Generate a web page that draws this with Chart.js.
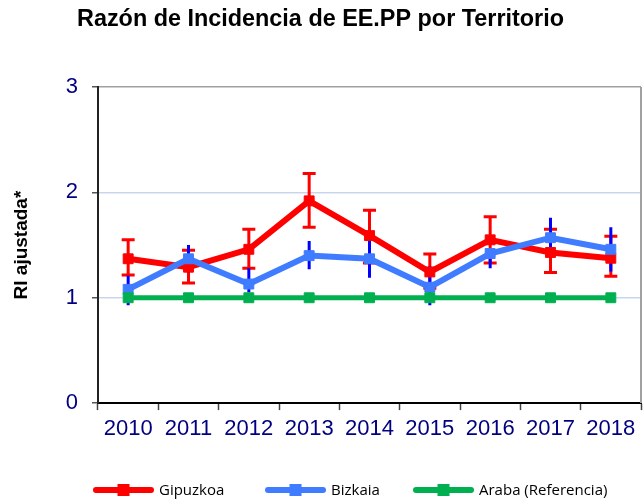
<!DOCTYPE html>
<html><head><meta charset="utf-8">
<script src="https://cdn.jsdelivr.net/npm/chart.js@4.4.1/dist/chart.umd.min.js"></script>
<style>html,body{margin:0;padding:0;background:#fff;}#wrap{width:643px;height:499px;}</style>
</head><body><div id="wrap"><canvas id="c" width="643" height="499"></canvas></div>
<script>
// ---- data ----
const years = ['2010','2011','2012','2013','2014','2015','2016','2017','2018'];
const seriesNames = ['Gipuzkoa', 'Bizkaia', 'Araba (Referencia)'];
const gipuzkoa     = [1.37, 1.29, 1.46, 1.92, 1.59, 1.245, 1.55, 1.43, 1.375];
const gipuzkoaLow  = [1.215, 1.14, 1.28, 1.67, 1.33, 1.09, 1.33, 1.24, 1.205];
const gipuzkoaHigh = [1.55, 1.45, 1.65, 2.18, 1.83, 1.415, 1.77, 1.65, 1.585];
const bizkaia      = [1.08, 1.37, 1.13, 1.40, 1.37, 1.10, 1.42, 1.57, 1.46];
const bizkaiaLow   = [0.93, 1.24, 1.05, 1.27, 1.19, 0.93, 1.28, 1.39, 1.25];
const bizkaiaHigh  = [1.21, 1.50, 1.28, 1.54, 1.55, 1.30, 1.47, 1.76, 1.67];
const araba        = [1, 1, 1, 1, 1, 1, 1, 1, 1];
const yTicks = [0, 1, 2, 3];
const titleText = 'Razón de Incidencia de EE.PP por Territorio';
const yTitle = 'RI ajustada*';

// ---- styles ----
const RED = '#ff0000', BLUE = '#3f7cff', BLUE_ERR = '#0000ff', GREEN = '#00b050';
const TICK_COLOR = '#000080';

const errorBars = {
  id: 'errorBars',
  beforeDatasetsDraw(chart) {
    const ctx = chart.ctx, xs = chart.scales.x, ys = chart.scales.y;
    function draw(lows, highs, color, width, cap) {
      ctx.save();
      ctx.strokeStyle = color; ctx.lineWidth = width; ctx.lineCap = 'butt';
      ctx.beginPath();
      years.forEach((_, i) => {
        const px = xs.getPixelForValue(i);
        const t = ys.getPixelForValue(highs[i]);
        const b = ys.getPixelForValue(lows[i]);
        ctx.moveTo(px, t); ctx.lineTo(px, b);
        if (cap) {
          ctx.moveTo(px - cap / 2, t); ctx.lineTo(px + cap / 2, t);
          ctx.moveTo(px - cap / 2, b); ctx.lineTo(px + cap / 2, b);
        }
      });
      ctx.stroke();
      ctx.restore();
    }
    draw(gipuzkoaLow, gipuzkoaHigh, RED, 3, 13);
    draw(bizkaiaLow, bizkaiaHigh, BLUE_ERR, 3, 0);
  }
};

const frame = {
  id: 'frame',
  beforeDatasetsDraw(chart) {
    const {ctx, chartArea: a} = chart;
    ctx.save();
    ctx.strokeStyle = '#a0a0a0'; ctx.lineWidth = 2;
    ctx.beginPath();
    ctx.moveTo(a.right, a.top); ctx.lineTo(a.right, a.bottom);
    ctx.stroke();
    ctx.restore();
  }
};

const legendBox = {starts: [93, 265, 413], lineLen: 61, y: 490, gap: 5, square: 12};
const customLegend = {
  id: 'customLegend',
  afterDraw(chart) {
    const ctx = chart.ctx;
    chart.data.datasets.forEach((ds, i) => {
      const x0 = legendBox.starts[i], y = legendBox.y;
      ctx.save();
      ctx.strokeStyle = ds.borderColor; ctx.lineWidth = 6; ctx.lineCap = 'round';
      ctx.beginPath(); ctx.moveTo(x0 + 3, y); ctx.lineTo(x0 + legendBox.lineLen - 3, y); ctx.stroke();
      ctx.fillStyle = ds.borderColor;
      const s = legendBox.square, cx = x0 + legendBox.lineLen / 2;
      ctx.fillRect(cx - s / 2, y - s / 2, s, s);
      ctx.fillStyle = '#000';
      ctx.font = '15px "Open Sans"';
      ctx.textBaseline = 'middle'; ctx.textAlign = 'left';
      ctx.fillText(ds.label, x0 + legendBox.lineLen + legendBox.gap, y + 1);
      ctx.restore();
    });
  }
};

function lineDs(label, data, color, width, order) {
  return {
    label, data, borderColor: color, backgroundColor: color,
    borderWidth: width, pointStyle: 'rect', pointRadius: 7, pointBorderWidth: 1,
    pointBackgroundColor: color, pointBorderColor: color, tension: 0, order
  };
}

new Chart(document.getElementById('c'), {
  type: 'line',
  data: {
    labels: years,
    datasets: [
      lineDs(seriesNames[0], gipuzkoa, RED, 6, 2),
      lineDs(seriesNames[1], bizkaia, BLUE, 6, 1),
      lineDs(seriesNames[2], araba, GREEN, 5, 0)
    ]
  },
  options: {
    responsive: false, animation: false, devicePixelRatio: 1,
    layout: {autoPadding: false, padding: {left: 0, right: 2, top: 0, bottom: 50.5}},
    plugins: {
      legend: {display: false},
      tooltip: {enabled: false},
      title: {
        display: true, text: titleText, color: '#000',
        font: {family: '"Liberation Sans", Arial', size: 23.4, weight: 'bold'},
        padding: {top: 6, bottom: 53}
      }
    },
    scales: {
      x: {
        type: 'category', offset: true,
        grid: {offset: true, drawOnChartArea: false, tickLength: 7, tickColor: '#444', tickWidth: 1.5},
        border: {color: '#000', width: 2},
        ticks: {color: TICK_COLOR, font: {family: '"Liberation Sans", Arial', size: 22}, padding: 6, maxRotation: 0, autoSkip: false}
      },
      y: {
        min: 0, max: 3,
        afterBuildTicks: s => { s.ticks = yTicks.map(v => ({value: v})); },
        afterFit: s => { s.width = 98; },
        grid: {
          color: c => c.tick && c.tick.value === 3 ? '#a0a0a0' : (c.tick && c.tick.value === 0 ? 'rgba(0,0,0,0)' : '#c9d5ee'),
          lineWidth: 1.5, tickLength: 6, tickColor: '#555', tickWidth: 1.5
        },
        border: {color: '#222', width: 2},
        ticks: {color: TICK_COLOR, font: {family: '"Liberation Sans", Arial', size: 22}, padding: 14},
        title: {display: true, text: yTitle, color: '#000', font: {family: '"Liberation Sans", Arial', size: 19, weight: 'bold'}, padding: {top: 10, bottom: 0}}
      }
    }
  },
  plugins: [errorBars, frame, customLegend]
});
</script></body></html>
